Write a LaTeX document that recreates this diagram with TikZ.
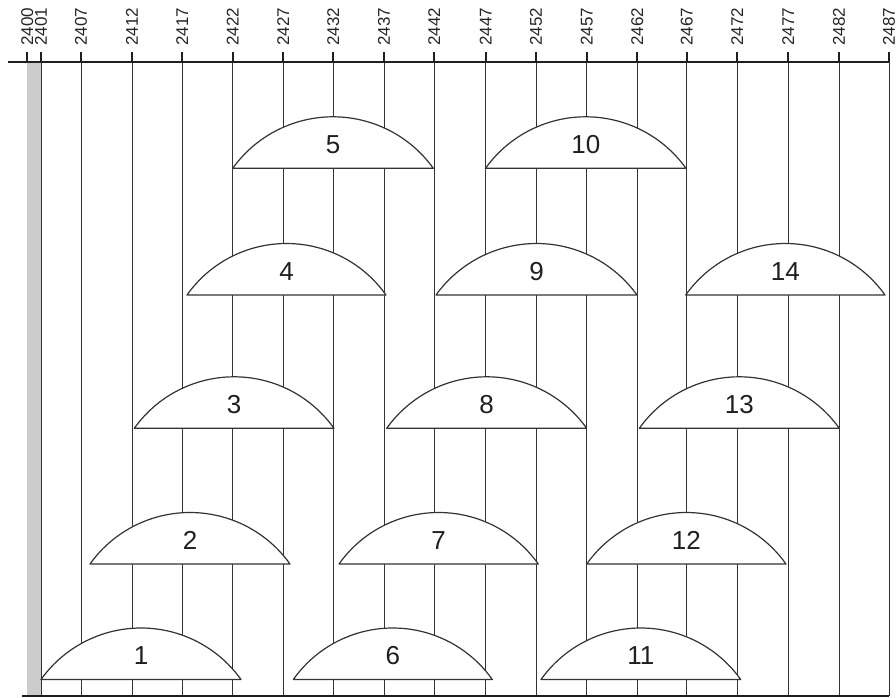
\documentclass[tikz,border=0pt]{standalone}
\usepackage{fontspec}
\setmainfont{Liberation Sans}
\newcommand\mychan[5]{% name, left, right, baseline, label
  \pgfmathsetmacro\cw{#3-#2}%
  \pgfmathsetmacro\cR{(\cw/8)*(\cw/51.5)+51.5/2}%
  \pgfmathsetmacro\cth{asin((\cw/2)/\cR)}%
  \draw[chan] (#2,#4) arc[start angle=90+\cth, end angle=90-\cth, radius=\cR pt] -- cycle;
  \node[chlab] (#1) at ({(#2+#3)/2},{#4+23.5}) {#5};
}
\begin{document}
\begin{tikzpicture}[x=1pt,y=1pt,
  vline/.style={draw=black!80, line width=0.9pt},
  chan/.style={draw=black!80, line width=1.2pt, fill=white, line join=round},
  axis/.style={draw=black!88, line width=1.6pt},
  tickmark/.style={draw=black!88, line width=1.8pt},
  axlab/.style={rotate=90, anchor=west, inner sep=0pt, font=\fontsize{17}{17}\selectfont, text=black!85},
  chlab/.style={font=\fontsize{26}{26}\selectfont, inner sep=0pt, text=black!88}]
\useasboundingbox (0,0) rectangle (896,697);
% guard band
\fill[black!20] (27.3,1) rectangle (41,635);
% vertical grid lines
\foreach \x in {41,81,132,182.3,232.7,283.3,333.3,384,434.3,485.7,536,586.7,637.3,686.7,737.3,788.3,839,889}
  \draw[vline] (\x,635) -- (\x,1);
% channels
\mychan{c1}{41}{241}{17.5}{1}
\mychan{c6}{293.3}{492.3}{17.5}{6}
\mychan{c11}{541}{740.7}{17.5}{11}
\mychan{c2}{90}{290}{133}{2}
\mychan{c7}{339}{538.3}{133}{7}
\mychan{c12}{586.7}{786}{133}{12}
\mychan{c3}{134.3}{334}{268.7}{3}
\mychan{c8}{386.7}{586.7}{268.7}{8}
\mychan{c13}{639.3}{839.3}{268.7}{13}
\mychan{c4}{187}{386}{402}{4}
\mychan{c9}{436}{637}{402}{9}
\mychan{c14}{685.7}{885}{402}{14}
\mychan{c5}{232.7}{433.3}{528.7}{5}
\mychan{c10}{485.5}{686}{528.7}{10}
% axis
\coordinate (axL) at (8,635);
\coordinate (axR) at (889,635);
\draw[axis] (axL) -- (axR);
\coordinate (botL) at (22,1);
\coordinate (botR) at (889,1);
\draw[axis, line width=1.3pt] (botL) -- (botR);
\foreach \x/\n in {27.3/2400,41/2401,81/2407,132/2412,182.3/2417,232.7/2422,283.3/2427,333.3/2432,384/2437,434.3/2442,485.7/2447,536/2452,586.7/2457,637.3/2462,686.7/2467,737.3/2472,788.3/2477,839/2482,889/2487}{
  \draw[tickmark] (\x,635) -- (\x,645.3);
  \node[axlab] (l\n) at (\x,651) {\n};
}
\end{tikzpicture}
\end{document}
